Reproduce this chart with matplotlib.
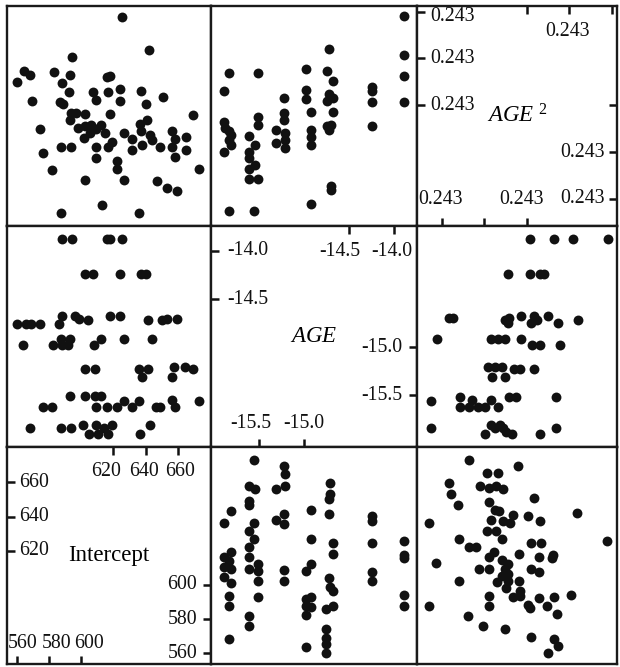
import numpy as np
import matplotlib.pyplot as plt
from matplotlib.lines import TICKLEFT, TICKRIGHT, TICKUP, TICKDOWN

plt.rcParams['font.family'] = ['Liberation Serif', 'DejaVu Serif']
plt.rcParams['mathtext.fontset'] = 'custom'
plt.rcParams['mathtext.it'] = 'Liberation Serif:italic'
plt.rcParams['mathtext.rm'] = 'Liberation Serif'

# AGE vs Intercept pairs
age_int_age = [-15.815, -15.90, -15.90, -15.815, -15.84, -15.90, -15.815, -15.90, -15.815, -15.84, -15.84, -15.84,
               -15.56, -15.62, -15.55, -15.62, -15.62, -15.56, -15.62, -15.56, -15.62, -15.62, -15.62, -15.51,
               -15.51, -15.51, -15.51, -15.62, -15.62,
               -15.23, -15.21, -15.21, -15.31, -15.23, -15.31, -15.23, -15.23, -15.23,
               -14.92, -14.92, -14.92, -14.98, -14.98, -14.92, -14.98, -14.92, -14.98, -14.98,
               -14.71, -14.71, -14.72, -14.72, -14.68, -14.68, -14.72, -14.71, -14.68, -14.68, -14.76, -14.76,
               -14.76, -14.76, -14.76,
               -14.24, -14.24, -14.24, -14.24, -14.24,
               -13.88, -13.88, -13.88, -13.88, -13.88]
age_int_int = [643.0, 636.5, 616.5, 619.0, 614.1, 610.2, 609.3, 604.8, 601.1, 593.7, 587.4, 568.3,
               673.2, 658.0, 656.4, 649.2, 646.7, 636.0, 631.3, 626.8, 621.9, 616.1, 609.3, 612.2,
               608.3, 602.0, 592.7, 582.0, 576.1,
               669.7, 664.8, 657.6, 656.4, 641.4, 637.9, 635.6, 608.7, 602.0,
               643.8, 626.8, 612.2, 607.9, 591.7, 593.1, 587.8, 587.2, 582.5, 563.8,
               659.4, 653.1, 650.2, 641.4, 624.3, 618.0, 604.0, 598.5, 596.2, 587.8, 585.9, 574.2,
               568.9, 565.4, 559.9,
               640.4, 637.1, 624.3, 607.3, 602.4,
               625.4, 617.6, 615.7, 593.9, 587.8]

# AGE vs AGE^2 pairs
age_sq_age = [-15.84, -15.90, -15.90, -15.88, -15.84, -15.815, -15.84, -15.815, -15.90, -15.84,
              -15.52, -15.52, -15.52, -15.62, -15.55, -15.62, -15.62, -15.55, -15.62, -15.62, -15.52, -15.56,
              -15.23, -15.23, -15.23, -15.31, -15.21, -15.21, -15.31, -15.21,
              -14.98, -14.98, -14.98, -14.92, -14.92, -14.92, -14.92, -14.92,
              -14.72, -14.75, -14.68, -14.72, -14.75, -14.68, -14.68, -14.75, -14.70, -14.72, -14.70, -14.70,
              -14.24, -14.24, -14.24, -14.24,
              -13.88, -13.88, -13.88, -13.88]
age_sq_sq = [0.2430341, 0.2430153, 0.2429822, 0.2429757, 0.2429721, 0.2429685, 0.2429631, 0.2429577, 0.2429505,
             0.2428874,
             0.2430341, 0.2429872, 0.2429793, 0.2429667, 0.2429577, 0.2429505, 0.2429432, 0.2429360, 0.2429324,
             0.2429216, 0.2429216, 0.2428874,
             0.2430081, 0.2429919, 0.2429847, 0.2429739, 0.2429703, 0.2429631, 0.2429595, 0.2429541,
             0.2430388, 0.2430160, 0.2430063, 0.2429930, 0.2429739, 0.2429656, 0.2429577, 0.2428946,
             0.2430604, 0.2430362, 0.2430254, 0.2430117, 0.2430045, 0.2430081, 0.2429930, 0.2429775, 0.2429793,
             0.2429739, 0.2429137, 0.2429090,
             0.2430197, 0.2430153, 0.2430038, 0.2429782,
             0.2430957, 0.2430539, 0.2430315, 0.2430038]

# AGE^2 vs Intercept pairs
sq_int_sq = [0.2429323, 0.2429893, 0.2429527, 0.2429662, 0.2429085, 0.2429446, 0.2429554, 0.2429639, 0.2429720,
             0.2429112, 0.2430085, 0.2429189, 0.2429554, 0.2429624, 0.2429677, 0.2429843, 0.2430016, 0.2430586,
             0.2428854, 0.2429574, 0.2429720, 0.2429797, 0.2430151, 0.2429527, 0.2429639, 0.2429708, 0.2429200,
             0.2430940, 0.2429323, 0.2429400, 0.2430047, 0.2430170, 0.2429612, 0.2429554, 0.2429908, 0.2430139,
             0.2430313, 0.2430297, 0.2428938, 0.2429708, 0.2429785, 0.2429439, 0.2429554, 0.2429747, 0.2430055,
             0.2430139, 0.2429708, 0.2429785, 0.2429778, 0.2429650, 0.2429200, 0.2429908, 0.2429758, 0.2429920,
             0.2429554, 0.2429843, 0.2429920, 0.2430139, 0.2430324, 0.2430517, 0.2428854, 0.2429554, 0.2430016,
             0.2430035, 0.2430239, 0.2429304, 0.2430355, 0.2429485, 0.2429747, 0.2430047, 0.2430324, 0.2430363,
             0.2430247]
sq_int_int = [673.2, 669.3, 665.2, 665.2, 659.4, 658.0, 656.6, 658.0, 656.4,
              653.1, 650.6, 646.9, 648.8, 643.8, 643.0, 641.0, 640.4, 641.8,
              636.0, 637.9, 637.1, 636.5, 637.1, 631.3, 631.3, 626.8, 626.8,
              625.4, 621.9, 621.9, 624.3, 624.3, 619.0, 616.5, 618.0, 616.5,
              617.6, 615.7, 612.6, 614.5, 612.2, 609.3, 609.3, 609.3, 609.3,
              607.3, 605.4, 606.3, 602.4, 601.5, 602.0, 602.4, 598.1, 596.6,
              593.7, 593.1, 593.7, 592.3, 592.7, 594.1, 587.4, 587.4, 588.4,
              586.4, 587.8, 582.0, 582.9, 576.1, 574.2, 569.3, 568.3, 564.0,
              560.1]

col_vars = ['Intercept', 'AGE', 'AGE2']
row_vars = ['AGE2', 'AGE', 'Intercept']
limits = {'Intercept': (553.7, 680.7), 'AGE': (-16.04, -13.74), 'AGE2': (0.242871, 0.243106)}
titles = {'Intercept': 'Intercept', 'AGE': r'$\mathit{AGE}$', 'AGE2': r'$\mathit{AGE}^{\ 2}$'}

pairs = {
    ('AGE', 'Intercept'): (age_int_age, age_int_int),
    ('Intercept', 'AGE'): (age_int_int, age_int_age),
    ('AGE', 'AGE2'): (age_sq_age, age_sq_sq),
    ('AGE2', 'AGE'): (age_sq_sq, age_sq_age),
    ('AGE2', 'Intercept'): (sq_int_sq, sq_int_int),
    ('Intercept', 'AGE2'): (sq_int_int, sq_int_sq),
}

def fmt(var, v):
    if var == 'Intercept':
        return '%d' % v
    if var == 'AGE':
        return '%.1f' % v
    return '%.3f' % v

# diagonal axis ticks: side -> (values, show label, dx, dy) with offsets in pixels
diag_ticks = {
    'Intercept': {
        'left': ([620, 640, 660], [True, True, True], [12, 12, 12], [0, 0, 0]),
        'right': ([560, 580, 600], [True, True, True], [-14, -14, -14], [0, 0, 0]),
        'bottom': ([560, 580, 600], [True, True, True], [6, 7, 8], [20, 20, 20]),
        'top': ([620, 640, 660], [True, True, True], [-7, -2, 2], [-25, -25, -25]),
    },
    'AGE': {
        'left': ([-14.5, -14.0], [True, True], [16, 16], [0, 0]),
        'right': ([-15.5, -15.0], [True, True], [-15, -15], [0, 0]),
        'bottom': ([-15.5, -15.0], [True, True], [-9, 0], [24, 24]),
        'top': ([-14.5, -14.0], [True, True], [-9, -2], [-26, -26]),
    },
    'AGE2': {
        'left': ([0.24300, 0.24305, 0.24310], [True, True, True], [13, 13, 13], [0, 0, -5]),
        'right': ([0.24290, 0.24295, 0.24300], [True, True, False], [-12, -12, -12], [0, 0, 0]),
        'bottom': ([0.24290, 0.24295, 0.24300], [True, False, True], [-1, 0, -5], [26, 26, 26]),
        'top': ([0.24300, 0.24305, 0.24310], [False, True, False], [0, -2, 0], [-26, -26, -26]),
    },
}

W, H = 620, 667
col_x = [7, 211, 417, 617]
row_y = [6, 226, 447, 664]

fig = plt.figure(figsize=(W / 100, H / 100), dpi=100)
fig.patch.set_facecolor('white')

for r, yvar in enumerate(row_vars):
    for c, xvar in enumerate(col_vars):
        left = col_x[c] / W
        width = (col_x[c + 1] - col_x[c]) / W
        bottom = 1 - row_y[r + 1] / H
        height = (row_y[r + 1] - row_y[r]) / H
        ax = fig.add_axes([left, bottom, width, height])
        ax.set_xlim(limits[xvar])
        ax.set_ylim(limits[yvar])
        ax.set_xticks([])
        ax.set_yticks([])
        for s in ax.spines.values():
            s.set_linewidth(1.7)
            s.set_color('#1a1a1a')
        if xvar != yvar:
            xs, ys = pairs[(xvar, yvar)]
            ax.plot(xs, ys, 'o', color='#111111', ms=7.1, mew=0, clip_on=False)
            continue
        var = xvar
        lo, hi = limits[var]
        ax.text(0.5, 0.5, titles[var], transform=ax.transAxes, ha='center', va='center', fontsize=16.5)
        for side, (vals, show, dxs, dys) in diag_ticks[var].items():
            for v, sh, dx, dy in zip(vals, show, dxs, dys):
                if side == 'left':
                    pt, mk, ha = (lo, v), TICKRIGHT, 'left'
                elif side == 'right':
                    pt, mk, ha = (hi, v), TICKLEFT, 'right'
                elif side == 'bottom':
                    pt, mk, ha = (v, lo), TICKUP, 'center'
                else:
                    pt, mk, ha = (v, hi), TICKDOWN, 'center'
                ax.plot([pt[0]], [pt[1]], marker=mk, ms=6, mew=1.8, color='#111111', clip_on=False)
                if sh:
                    ax.annotate(fmt(var, v), xy=pt, xytext=(dx, dy), textcoords='offset pixels',
                                ha=ha, va='center', fontsize=14.3, color='#111111')

fig.savefig('out.png', dpi=100, facecolor='white')
